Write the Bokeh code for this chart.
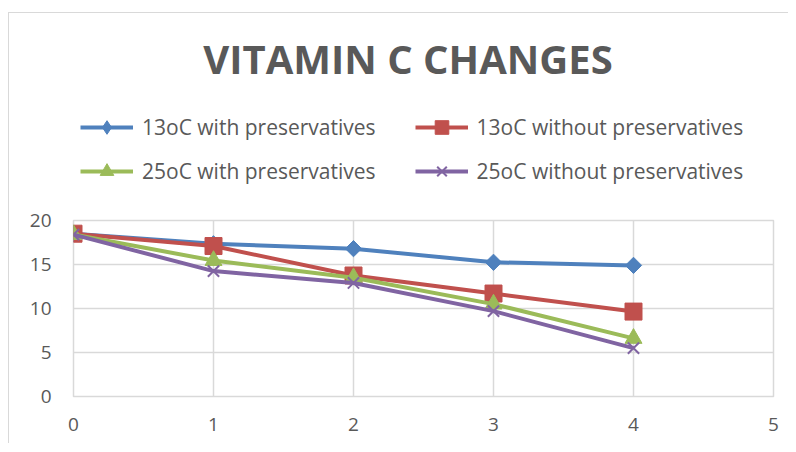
from bokeh.plotting import figure
from bokeh.layouts import column
from bokeh.models import Legend, LegendItem, Label, Range1d, FixedTicker
from bokeh.embed import file_html
from bokeh.resources import INLINE
import math

days = [0, 1, 2, 3, 4]
s13_with = [18.5, 17.35, 16.8, 15.25, 14.9]
s13_without = [18.5, 17.1, 13.75, 11.7, 9.65]
s25_with = [18.4, 15.45, 13.5, 10.5, 6.6]
s25_without = [18.4, 14.25, 12.9, 9.7, 5.5]
names = ["13oC with preservatives", "13oC without preservatives",
         "25oC with preservatives", "25oC without preservatives"]
title_text = "VITAMIN C CHANGES"
x_ticks = [0, 1, 2, 3, 4, 5]
y_ticks = [0, 5, 10, 15, 20]

FONT = "Open Sans"
GRAY = "#595959"
GRID = "#d9d9d9"
W = 779

# (values, colour, plot marker, plot size, angle, legend marker)
series = [
    (s13_with, "#4f81bd", "square", 11.5, math.pi / 4, "diamond"),
    (s13_without, "#c0504d", "square", 17, 0, "square"),
    (s25_with, "#9bbb59", "triangle", 17, 0, "triangle"),
    (s25_without, "#8064a2", "x", 16, 0, "x"),
]

# ---- header (title + legend); its frame is aligned with the main frame ----
HH = 194
ph = figure(width=W, height=HH, output_backend="svg", toolbar_location=None,
            x_range=Range1d(100, 800), y_range=Range1d(0, HH),
            x_axis_type=None, y_axis_type=None, min_border=0)
ph.outline_line_color = None
ph.grid.visible = False

# ---- main chart ----
p = figure(width=W, height=236, output_backend="svg", toolbar_location=None,
           x_range=Range1d(0, 5), y_range=Range1d(0, 20),
           min_border_left=64, min_border_right=15, min_border_top=13, min_border_bottom=47)
p.outline_line_color = GRID
p.outline_line_width = 1.5
for ax in (p.xaxis[0], p.yaxis[0]):
    ax.axis_line_color = None
    ax.major_tick_line_color = None
    ax.minor_tick_line_color = None
    ax.major_tick_out = 0
    ax.major_tick_in = 0
    ax.major_label_text_font = FONT
    ax.major_label_text_font_size = "19px"
    ax.major_label_text_color = GRAY
p.xaxis[0].ticker = FixedTicker(ticks=x_ticks)
p.yaxis[0].ticker = FixedTicker(ticks=y_ticks)
p.xaxis[0].major_label_standoff = 21
p.yaxis[0].major_label_standoff = 22
p.xgrid.grid_line_color = GRID
p.ygrid.grid_line_color = GRID
p.xgrid.grid_line_width = 1.5
p.ygrid.grid_line_width = 1.5

items = []
for (vals, col, mk, sz, ang, lmk), nm in zip(series, names):
    p.line(days, vals, line_color=col, line_width=4)
    if mk == "x":
        p.scatter(days, vals, marker=mk, size=sz, line_color=col, line_width=2, angle=ang)
    else:
        p.scatter(days, vals, marker=mk, size=sz, fill_color=col, line_color=col, angle=ang)
    ln = ph.line(days, vals, line_color=col, line_width=4)
    if lmk == "x":
        sc = ph.scatter(days, vals, marker=lmk, size=sz, line_color=col, line_width=2)
    else:
        sc = ph.scatter(days, vals, marker=lmk, size=sz, fill_color=col, line_color=col)
    items.append(LegendItem(label=nm, renderers=[ln, sc]))

def make_legend(its, vy):
    return Legend(items=its, orientation="horizontal", location=(7, vy),
                  glyph_width=53, glyph_height=34, label_height=34,
                  label_standoff=9, spacing=39, padding=0, margin=0,
                  border_line_color=None, background_fill_alpha=0,
                  label_text_font=FONT, label_text_font_size="21px",
                  label_text_color=GRAY)

ph.add_layout(make_legend(items[:2], 63), "center")
ph.add_layout(make_legend(items[2:], 19), "center")
ph.add_layout(Label(x=334.5, y=149, x_units="screen", y_units="screen", text=title_text,
                    text_align="center", text_baseline="middle", text_font=FONT,
                    text_font_style="bold", text_font_size="40px", text_color=GRAY))

layout = column(ph, p, spacing=0)
layout.styles = {"margin-top": "12px", "margin-left": "8px",
                 "border-left": "1px solid #d9d9d9", "border-top": "1px solid #d9d9d9"}

open("out.html", "w").write(file_html(layout, INLINE))
